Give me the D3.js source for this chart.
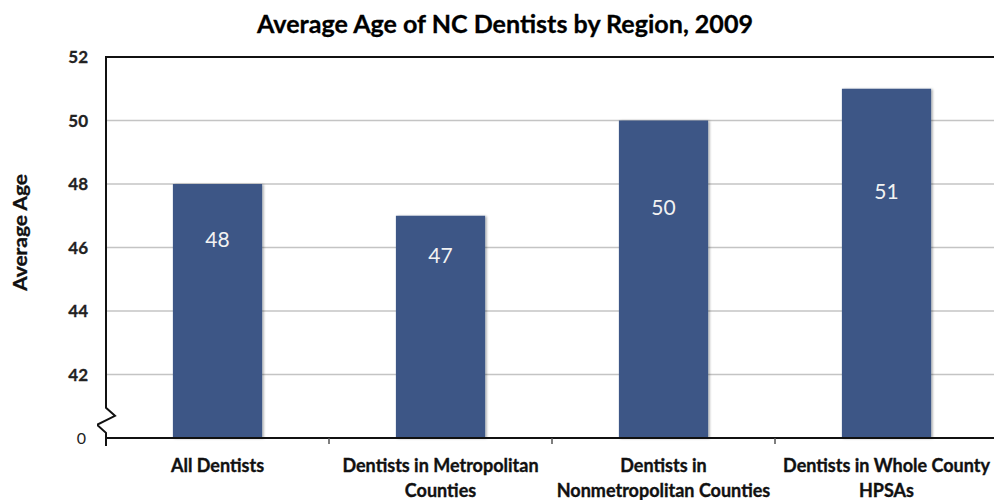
<!DOCTYPE html>
<html>
<head>
<meta charset="utf-8">
<script src="https://cdn.jsdelivr.net/npm/d3@7"></script>
<style>
  body { margin: 0; background: #fff; }
  svg { display: block; overflow: hidden; font-family: Lato, "Open Sans", sans-serif; }
</style>
</head>
<body>
<div id="chart"></div>
<script>
// Chart data
const regions = ["All Dentists", "Dentists in Metropolitan\nCounties", "Dentists in\nNonmetropolitan Counties", "Dentists in Whole County\nHPSAs"];
const avgAge = [48, 47, 50, 51];
const yTicks = [42, 44, 46, 48, 50, 52];
const chartTitle = "Average Age of NC Dentists by Region, 2009";
const yTitle = "Average Age";

const width = 994, height = 500;
const margin = {top: 57, right: -4, bottom: 62, left: 106};
const barColor = '#3e5686';

const svg = d3.select('#chart')
    .append('svg')
    .attr('width', width)
    .attr('height', height);

const x = d3.scaleBand()
    .domain(regions)
    .range([margin.left, width - margin.right])
    .paddingInner(0.6)
    .paddingOuter(0.3);

// axis is broken: bottom of the plot stands for 0, drawn at 40
const y = d3.scaleLinear()
    .domain([40, 52])
    .range([height - margin.bottom, margin.top]);

const x0 = margin.left, x1 = width - margin.right;
const yBottom = y(40);

// gridlines
svg.append('g')
   .selectAll('line')
   .data(yTicks.slice(0, -1))
   .enter()
   .append('line')
   .attr('x1', x0).attr('x2', x1)
   .attr('y1', d => y(d)).attr('y2', d => y(d))
   .attr('stroke', '#c4c4c4')
   .attr('stroke-width', 1.3);

// shadow for bars
const defs = svg.append('defs');
const f = defs.append('filter').attr('id', 'shadow').attr('x', '-10%').attr('y', '-10%').attr('width', '130%').attr('height', '130%');
f.append('feDropShadow').attr('dx', 1.5).attr('dy', 0.5).attr('stdDeviation', 1.2).attr('flood-color', '#000').attr('flood-opacity', 0.35);

// bars
svg.append('g')
   .selectAll('rect')
   .data(avgAge)
   .enter()
   .append('rect')
   .attr('x', (d, i) => x(regions[i]))
   .attr('y', d => y(d))
   .attr('width', x.bandwidth())
   .attr('height', d => yBottom - y(d))
   .attr('fill', barColor)
   .attr('filter', 'url(#shadow)');

// value labels inside the bars
svg.append('g')
   .selectAll('text')
   .data(avgAge)
   .enter()
   .append('text')
   .attr('x', (d, i) => x(regions[i]) + x.bandwidth() / 2)
   .attr('y', d => (y(d) + y(44.5)) / 2)
   .attr('dy', '0.36em')
   .attr('text-anchor', 'middle')
   .attr('fill', '#f2f2f2')
   .attr('font-size', 21)
   .text(d => d);

// frame: top border and bottom axis
svg.append('line')
   .attr('x1', x0 - 1).attr('x2', x1)
   .attr('y1', y(52)).attr('y2', y(52))
   .attr('stroke', '#111').attr('stroke-width', 2);

svg.append('line')
   .attr('x1', x0 - 1).attr('x2', x1)
   .attr('y1', yBottom).attr('y2', yBottom)
   .attr('stroke', '#111').attr('stroke-width', 2);

// category tick marks at band edges
svg.append('g')
   .selectAll('line')
   .data(regions)
   .enter()
   .append('line')
   .attr('x1', d => x(d) - x.step() * 0.3)
   .attr('x2', d => x(d) - x.step() * 0.3)
   .attr('y1', yBottom).attr('y2', yBottom + 6)
   .attr('stroke', '#555').attr('stroke-width', 1.5);

// left axis with a zigzag break
const yb = y(40.95);
const axisPath = d3.path();
axisPath.moveTo(x0, y(52));
axisPath.lineTo(x0, yb);
axisPath.lineTo(x0 + 9, yb + 8);
axisPath.lineTo(x0 - 9, yb + 17);
axisPath.lineTo(x0, yb + 25);
axisPath.lineTo(x0, yBottom + 8);
svg.append('path')
   .attr('d', axisPath.toString())
   .attr('fill', 'none')
   .attr('stroke', '#111')
   .attr('stroke-width', 2);

// y tick labels
svg.append('g')
   .selectAll('text')
   .data(yTicks)
   .enter()
   .append('text')
   .attr('x', x0 - 18)
   .attr('y', d => y(d))
   .attr('dy', '0.36em')
   .attr('text-anchor', 'end')
   .attr('font-size', 17)
   .attr('font-weight', 'bold')
   .attr('fill', '#222')
   .attr('stroke', '#222')
   .attr('stroke-width', 0.3)
   .text(d => d);

// the "0" label at the bottom, on a white patch
svg.append('rect')
   .attr('x', x0 - 41).attr('y', yBottom - 20)
   .attr('width', 32).attr('height', 34)
   .attr('fill', '#fff');
svg.append('text')
   .attr('x', x0 - 20)
   .attr('y', yBottom)
   .attr('dy', '0.36em')
   .attr('text-anchor', 'end')
   .attr('font-size', 16)
   .attr('fill', '#222')
   .text('0');

// category labels
const catLabels = svg.append('g')
   .selectAll('text')
   .data(regions)
   .enter()
   .append('text')
   .attr('x', d => x(d) + x.bandwidth() / 2)
   .attr('y', yBottom + 34)
   .attr('text-anchor', 'middle')
   .attr('font-size', 18)
   .attr('font-weight', 'bold')
   .attr('fill', '#111')
   .attr('stroke', '#111')
   .attr('stroke-width', 0.35);

catLabels.selectAll('tspan')
   .data(d => d.split('\n'))
   .enter()
   .append('tspan')
   .attr('x', function() { return d3.select(this.parentNode).attr('x'); })
   .attr('dy', (d, i) => i === 0 ? 0 : 25)
   .text(d => d);

// axis title
svg.append('text')
   .attr('transform', `translate(27, ${(y(52) + yBottom) / 2 - 15}) rotate(-90)`)
   .attr('text-anchor', 'middle')
   .attr('font-size', 18)
   .attr('font-weight', 'bold')
   .attr('fill', '#111')
   .attr('stroke', '#111')
   .attr('stroke-width', 0.3)
   .attr('textLength', 117)
   .attr('lengthAdjust', 'spacingAndGlyphs')
   .text(yTitle);

// chart title
svg.append('text')
   .attr('x', 505)
   .attr('y', 33)
   .attr('text-anchor', 'middle')
   .attr('font-size', 25)
   .attr('font-weight', 'bold')
   .attr('fill', '#000')
   .attr('stroke', '#000')
   .attr('stroke-width', 0.3)
   .attr('textLength', 496)
   .attr('lengthAdjust', 'spacingAndGlyphs')
   .text(chartTitle);
</script>
</body>
</html>
